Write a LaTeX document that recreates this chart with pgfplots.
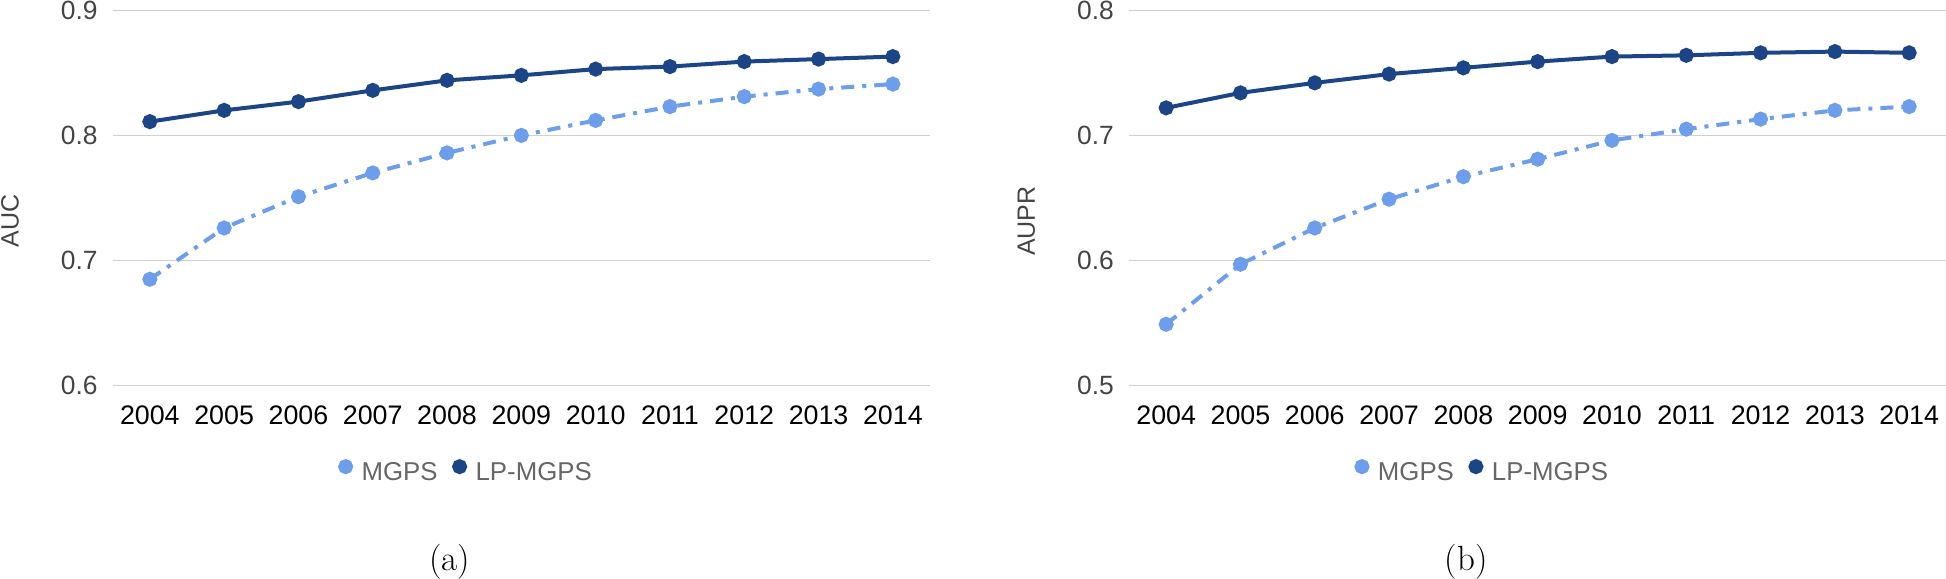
\documentclass[border=0pt]{standalone}
\usepackage{pgfplots}
\pgfplotsset{compat=1.18}
\usepackage{fontspec}
\newfontfamily\robo{Liberation Sans}
\definecolor{mgps}{HTML}{6D9EEB}
\definecolor{lpmgps}{HTML}{1C4587}
\definecolor{gridc}{HTML}{D0D0D0}
\definecolor{tickc}{HTML}{444444}
\definecolor{legc}{HTML}{666666}

\pgfplotstableread{
x  mgpsauc lpauc  mgpsaupr lpaupr
0  0.685   0.811  0.549    0.722
1  0.726   0.820  0.597    0.734
2  0.751   0.827  0.626    0.742
3  0.770   0.836  0.649    0.749
4  0.786   0.844  0.667    0.754
5  0.800   0.848  0.681    0.759
6  0.812   0.853  0.696    0.763
7  0.823   0.855  0.705    0.764
8  0.831   0.859  0.713    0.766
9  0.837   0.861  0.720    0.767
10 0.841   0.863  0.723    0.766
}\datatab

\pgfplotsset{
  every axis title shift=0pt,
  myaxis/.style={
    scale only axis, width=408.65pt, height=187.65pt,
    xmin=-0.5, xmax=10.5, clip=false,
    xtick={0,...,10},
    xticklabels={2004,2005,2006,2007,2008,2009,2010,2011,2012,2013,2014},
    axis line style={draw=none},
    major tick length=0pt,
    ymajorgrids, grid style={gridc, line width=0.6pt},
    /pgf/number format/assume math mode=true,
    xticklabel style={font=\robo\fontsize{13.4}{16}\selectfont, text=black, anchor=north, inner sep=0pt, yshift=-9.8pt},
    yticklabel style={font=\robo\fontsize{13.2}{16}\selectfont, text=tickc, anchor=east, inner sep=0pt, xshift=-7.35pt},
    ylabel style={font=\robo\fontsize{12.5}{15}\selectfont, text=tickc, at={(axis description cs:-0.1257,0.4386)}, anchor=center, rotate=0},
    title style={font=\fontsize{17.5}{20}\selectfont, at={(axis description cs:0.4125,-0.470)}, anchor=center},
    legend style={at={(0.431,-0.229)}, anchor=center, legend columns=2, draw=none, fill=none,
      font=\robo\fontsize{12.9}{15}\selectfont, text=legc,
      inner sep=0pt, nodes={inner sep=0pt},
      /tikz/every odd column/.append style={column sep=4.25pt},
      /tikz/every even column/.append style={column sep=7.25pt}},
  },
  mgpsline/.style={mgps, line width=2pt, dash pattern=on 6.5pt off 4pt on 2pt off 4pt,
    mark=*, mark size=2.75pt, mark options={solid, fill=mgps, draw=mgps},
    legend image code/.code={\fill[mgps, solid] (0pt,3.4pt) circle (2.75pt);}},
  lpline/.style={lpmgps, line width=2pt, solid,
    mark=*, mark size=2.75pt, mark options={solid, fill=lpmgps, draw=lpmgps},
    legend image code/.code={\fill[lpmgps, solid] (0pt,3.4pt) circle (2.75pt);}},
}

\begin{document}
\begin{tikzpicture}
\useasboundingbox (-56.35pt,-96.2pt) rectangle (916.65pt,192.8pt);
\begin{axis}[myaxis, ymin=0.6, ymax=0.9, ytick={0.6,0.7,0.8,0.9},
  yticklabels={0.6,0.7,0.8,0.9}, ylabel={AUC}, title={(a)}]
\addplot[mgpsline] table[x=x, y=mgpsauc] {\datatab};
\addlegendentry{MGPS}
\addplot[lpline] table[x=x, y=lpauc] {\datatab};
\addlegendentry{LP-MGPS}
\end{axis}
\begin{axis}[myaxis, at={(508.15pt,0pt)}, ymin=0.5, ymax=0.8, ytick={0.5,0.6,0.7,0.8},
  yticklabels={0.5,0.6,0.7,0.8}, ylabel={AUPR}, title={(b)}]
\addplot[mgpsline] table[x=x, y=mgpsaupr] {\datatab};
\addlegendentry{MGPS}
\addplot[lpline] table[x=x, y=lpaupr] {\datatab};
\addlegendentry{LP-MGPS}
\end{axis}
\end{tikzpicture}
\end{document}
